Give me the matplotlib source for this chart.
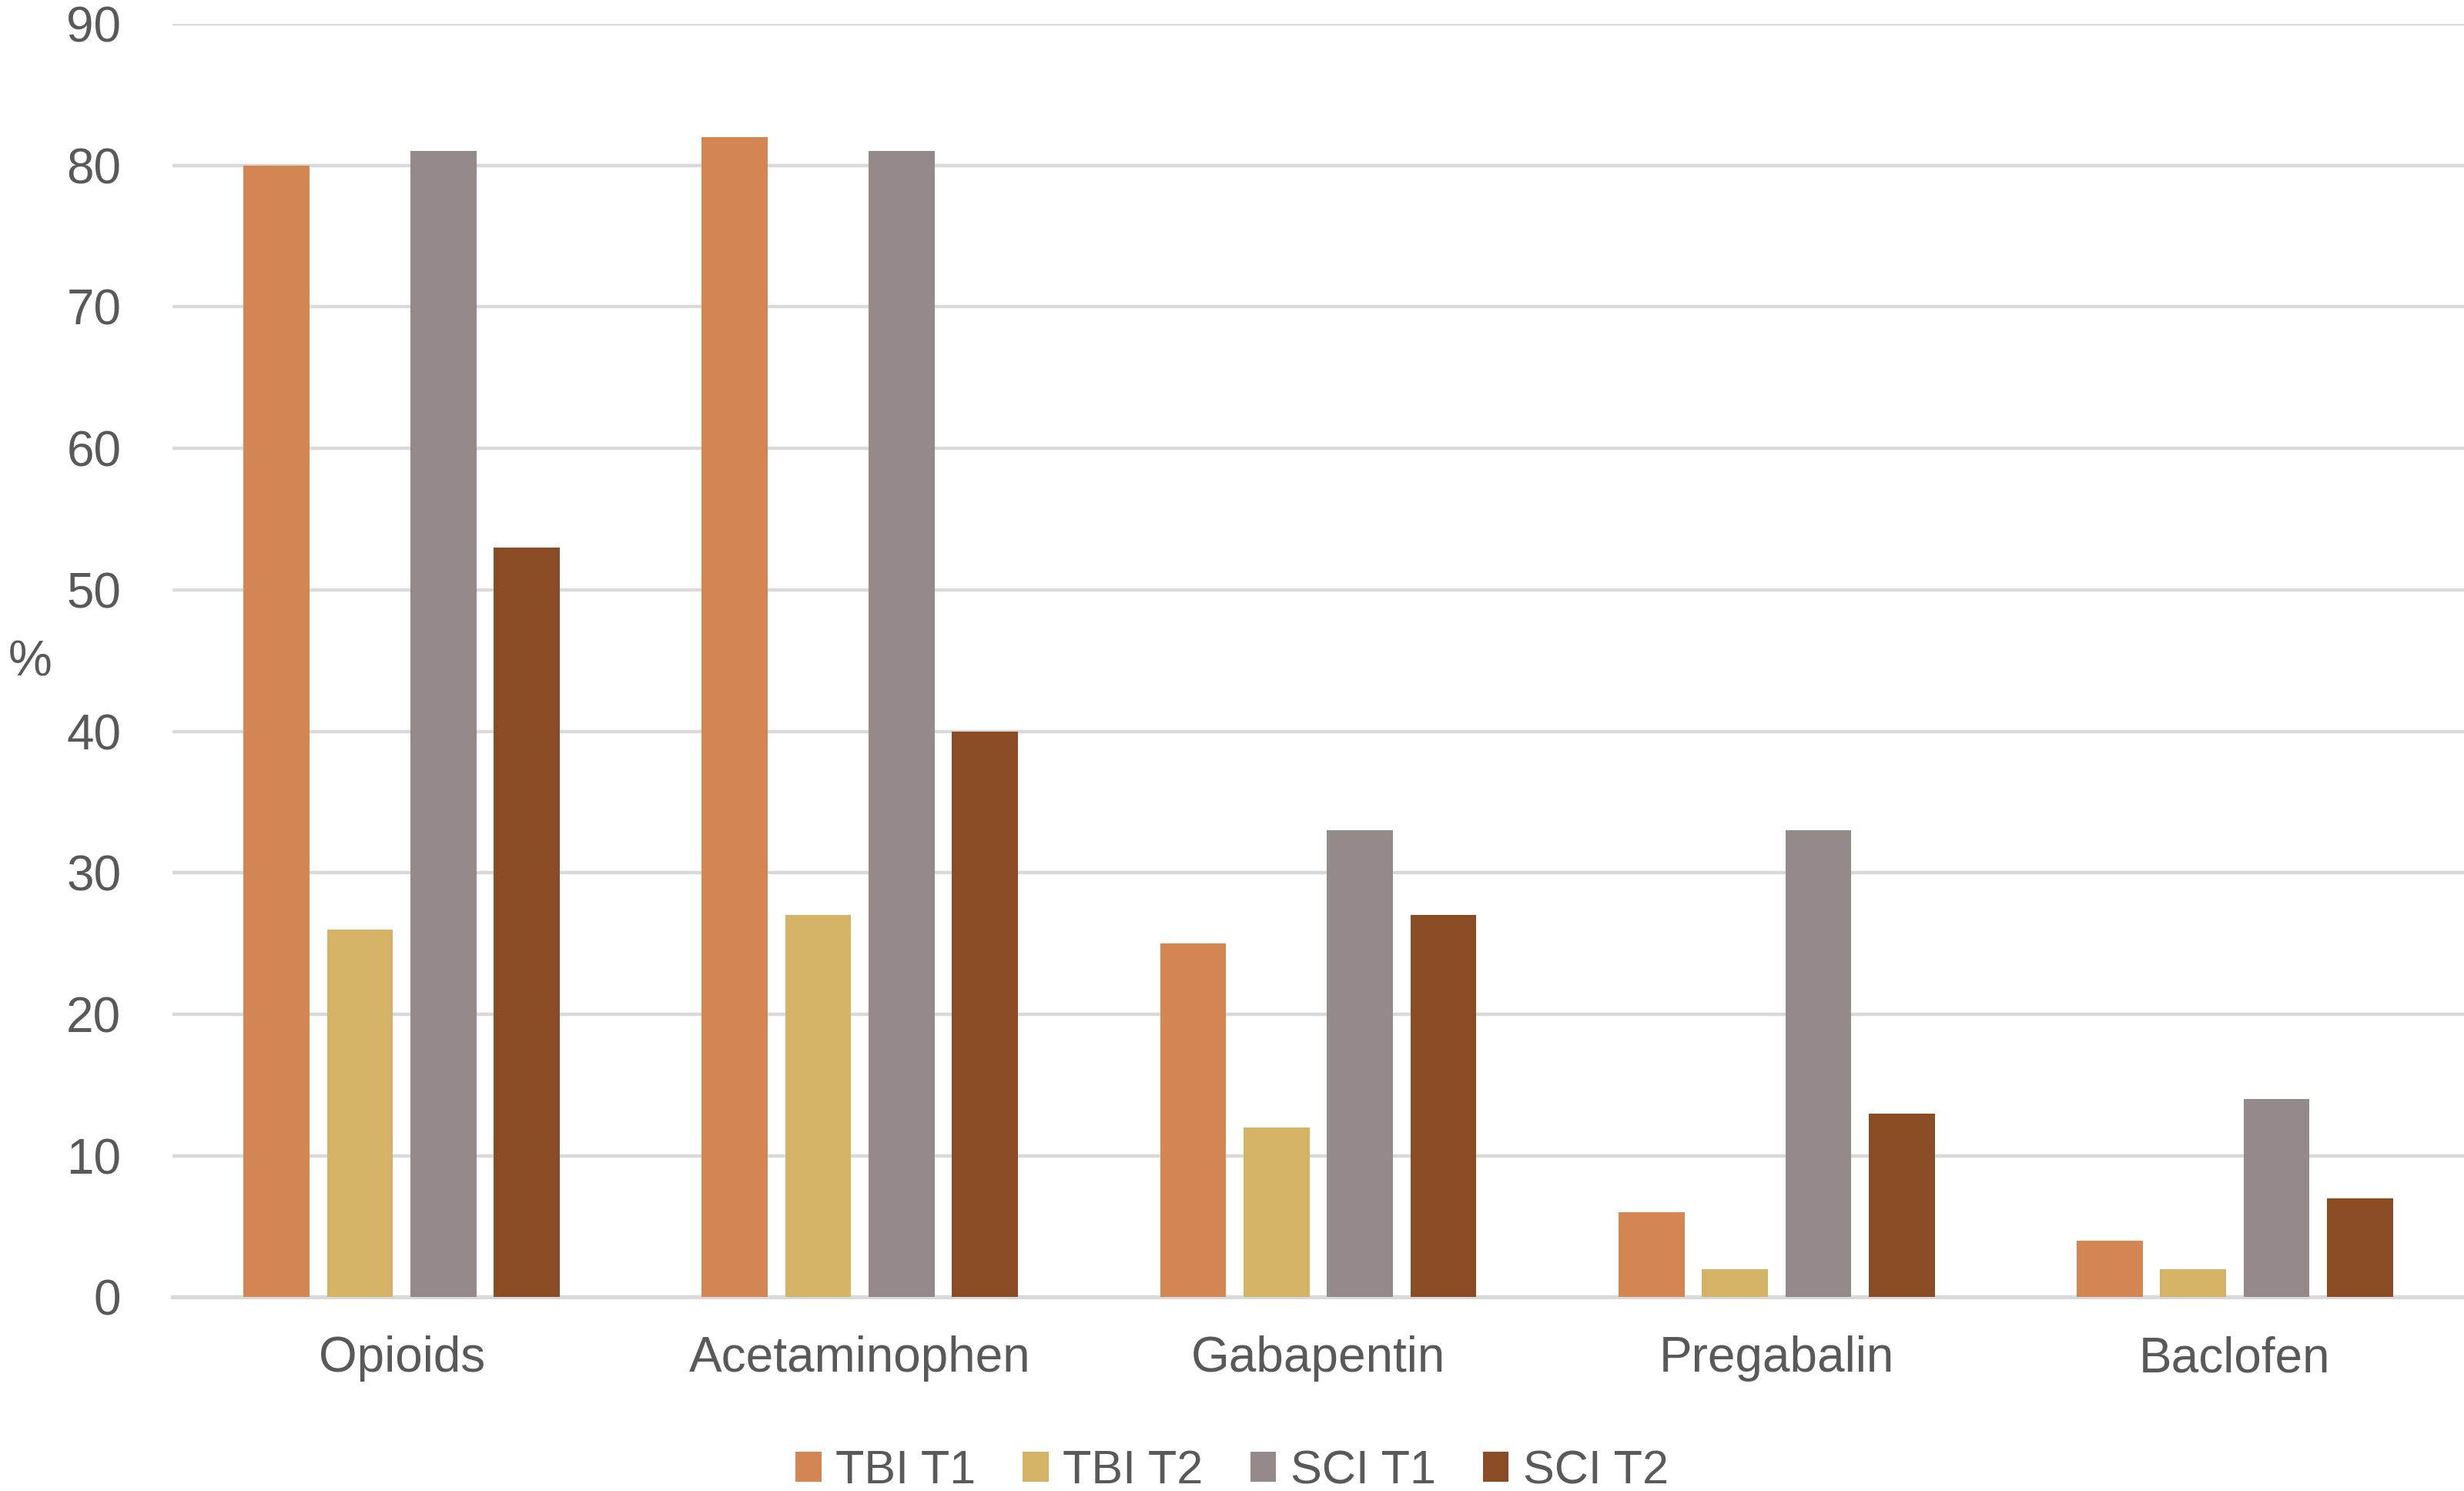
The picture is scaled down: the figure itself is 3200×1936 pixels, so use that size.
import numpy as np
import matplotlib.pyplot as plt
from matplotlib import font_manager

names = [f.name for f in font_manager.fontManager.ttflist]
if 'Liberation Sans Narrow' in names:
    plt.rcParams['font.family'] = ['Liberation Sans Narrow', 'DejaVu Sans']
else:
    plt.rcParams['font.family'] = ['Liberation Sans', 'DejaVu Sans']

drugs = ['Opioids', 'Acetaminophen', 'Gabapentin', 'Pregabalin', 'Baclofen']
series = ['TBI T1', 'TBI T2', 'SCI T1', 'SCI T2']
tbi_t1 = [80, 82, 25, 6, 4]
tbi_t2 = [26, 27, 12, 2, 2]
sci_t1 = [81, 81, 33, 33, 14]
sci_t2 = [53, 40, 27, 13, 7]
colors = ['#D38552', '#D4B366', '#948A8A', '#8B4C25']

txt = '#595959'
fig = plt.figure(figsize=(16, 9.68), dpi=200)
ax = fig.add_axes([0.07, 0.13, 0.93, 0.854])

x = np.arange(len(drugs))
w = 0.144
step = 0.182
for i, (vals, c, lab) in enumerate(zip([tbi_t1, tbi_t2, sci_t1, sci_t2], colors, series)):
    ax.bar(x + (i - 1.5) * step, vals, width=w, color=c, label=lab, zorder=3)

ax.set_xlim(-0.5, 4.5)
ax.set_ylim(0, 90)
ax.set_yticks(np.arange(0, 91, 10))
ax.set_xticks(x)
ax.set_xticklabels(drugs)
ax.grid(axis='y', color='#D9D9D9', linewidth=1.6, zorder=0)
for s in ['top', 'right', 'left']:
    ax.spines[s].set_visible(False)
ax.spines['bottom'].set_color('#D9D9D9')
ax.spines['bottom'].set_linewidth(1.8)
ax.tick_params(axis='both', length=0, labelsize=23, colors=txt)
ax.tick_params(axis='y', pad=24)
ax.tick_params(axis='x', pad=18)
ax.set_ylabel('%', rotation=0, fontsize=23, color=txt)
ax.yaxis.set_label_coords(-0.062, 0.48)

fig.legend(loc='lower center', ncol=4, frameon=False, fontsize=22,
           labelcolor=txt, handlelength=0.55, handleheight=0.6,
           handletextpad=0.3, columnspacing=1.0, bbox_to_anchor=(0.5, -0.03))

fig.savefig('out.png')
